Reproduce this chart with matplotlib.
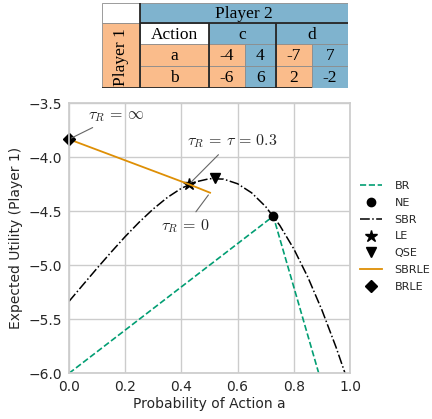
"""
Stackelberg game: expected leader utility under best response / softmax best response
"""

import matplotlib.pyplot as plt
from matplotlib.patches import Rectangle

# payoff table
p1_actions = ["a", "b"]
p2_actions = ["c", "d"]
p1_payoffs = [[-4, -7], [-6, 2]]
p2_payoffs = [[4, 7], [6, -2]]

# best response (follower plays c, then d)
br_x = [0.0, 0.727, 1.0]
br_y = [-6.0, -4.545, -7.0]

# softmax best response curve
sbr_x = [0.0, 0.05, 0.1, 0.15, 0.2, 0.25, 0.3, 0.35, 0.4, 0.45, 0.5,
         0.55, 0.6, 0.65, 0.7, 0.75, 0.8, 0.85, 0.9, 0.95, 1.0]
sbr_y = [-5.334, -5.180, -5.027, -4.878, -4.734, -4.600, -4.478, -4.372,
         -4.287, -4.228, -4.198, -4.202, -4.245, -4.329, -4.457, -4.630,
         -4.848, -5.110, -5.414, -5.756, -6.133]

# SBRLE path from tau_R = inf to tau_R = 0
sbrle_x = [0.0, 0.427, 0.502]
sbrle_y = [-3.833, -4.25, -4.328]

ne = (0.727, -4.545)
le = (0.427, -4.25)
qse = (0.52, -4.196)
brle = (0.0, -3.833)

PEACH = "#fabc8b"
BLUE = "#7fb3ce"
GREEN = "#029e73"
ORANGE = "#de8f05"

plt.rcParams.update({
    "font.family": "DejaVu Sans",
    "mathtext.fontset": "cm",
    "axes.edgecolor": "0.8",
    "axes.linewidth": 1.25,
    "grid.color": "0.8",
    "grid.linewidth": 1.0,
    "text.color": "0.15",
    "axes.labelcolor": "0.15",
    "xtick.color": "0.15",
    "ytick.color": "0.15",
})


def draw_table(fig):
    tab = fig.add_axes([102 / 432, 1 - 88 / 419, 246 / 432, 85 / 419])
    tab.set_xlim(102, 348)
    tab.set_ylim(88, 3)
    tab.axis("off")

    cols = [102, 139.5, 209, 245, 276, 312, 348]
    rows = [3, 23.5, 44.5, 66, 88]
    serif = dict(family="Liberation Serif", fontsize=12.5, color="black",
                 ha="center", va="center")

    def cell(c0, c1, r0, r1, colour, text="", **kw):
        x0, x1 = cols[c0], cols[c1]
        y0, y1 = rows[r0], rows[r1]
        tab.add_patch(Rectangle((x0, y0), x1 - x0, y1 - y0, facecolor=colour,
                                edgecolor="0.55", lw=0.6))
        if text:
            tab.text((x0 + x1) / 2, (y0 + y1) / 2 + 1, text, **serif, **kw)

    cell(0, 1, 0, 1, "white")
    cell(1, 6, 0, 1, BLUE, "Player 2")
    cell(0, 1, 1, 4, PEACH, "Player 1", rotation=90)
    cell(1, 2, 1, 2, "white", "Action")
    cell(2, 4, 1, 2, BLUE, p2_actions[0])
    cell(4, 6, 1, 2, BLUE, p2_actions[1])
    for i, act in enumerate(p1_actions):
        cell(1, 2, 2 + i, 3 + i, PEACH, act)
        for j in range(2):
            cell(2 + 2 * j, 3 + 2 * j, 2 + i, 3 + i, PEACH, str(p1_payoffs[i][j]))
            cell(3 + 2 * j, 4 + 2 * j, 2 + i, 3 + i, BLUE, str(p2_payoffs[i][j]))

    dark = dict(color="0.15", lw=1.3, solid_capstyle="butt")
    tab.plot([cols[1], cols[1]], [rows[0], rows[4]], **dark)
    tab.plot([cols[1], cols[6]], [rows[1], rows[1]], **dark)
    tab.plot([cols[2], cols[2]], [rows[1], rows[4]], **dark)
    tab.plot([cols[4], cols[4]], [rows[1], rows[4]], **dark)
    tab.plot([cols[0], cols[5]], [rows[4], rows[4]], **dark)


def plot():
    fig = plt.figure(figsize=(4.32, 4.19), dpi=100)
    fig.patch.set_facecolor("white")

    draw_table(fig)

    ax = fig.add_axes([69 / 432, 1 - 373.3 / 419, 281 / 432, 270 / 419])
    ax.grid(True)
    ax.set_axisbelow(True)
    ax.tick_params(length=0, labelsize=10, pad=5)

    ax.plot(br_x, br_y, color=GREEN, linestyle="--", lw=1.2, label="BR")
    ax.plot(*ne, "o", color="black", ms=6, label="NE")
    ax.plot(sbr_x, sbr_y, color="black", linestyle="-.", lw=1.1, label="SBR")
    ax.plot(*le, "*", color="black", ms=9, label="LE")
    ax.plot(*qse, "v", color="black", ms=7, label="QSE")
    ax.plot(sbrle_x, sbrle_y, color=ORANGE, lw=1.3, label="SBRLE")
    ax.plot(*brle, "D", color="black", ms=6, label="BRLE", clip_on=False)

    arrow = dict(arrowstyle="-", color="0.4", lw=0.8)
    note = dict(fontsize=11.5, ha="center", va="center", color="0.15",
                arrowprops=arrow)
    ax.annotate(r"$\tau_R\,=\,\infty$", brle, (0.167, -3.618), **note)
    ax.annotate(r"$\tau_R\,=\,\tau\,=\,0.3$", le, (0.58, -3.85), **note)
    ax.annotate(r"$\tau_R\,=\,0$", (sbrle_x[-1], sbrle_y[-1]),
                (0.415, -4.633), **note)

    ax.set_xlim(0, 1)
    ax.set_ylim(-6, -3.5)
    ax.set_xticks([0, 0.2, 0.4, 0.6, 0.8, 1.0])
    ax.set_yticks([-6, -5.5, -5, -4.5, -4, -3.5])
    ax.set_xlabel("Probability of Action a", fontsize=10, labelpad=2)
    ax.set_ylabel("Expected Utility (Player 1)", fontsize=10)

    ax.legend(loc="upper left", bbox_to_anchor=(1.0, 0.75), frameon=False,
              fontsize=8, handlelength=2.0, handletextpad=1.1,
              labelspacing=0.62)

    plt.savefig("out.png", dpi=100)


if __name__ == "__main__":
    plot()
